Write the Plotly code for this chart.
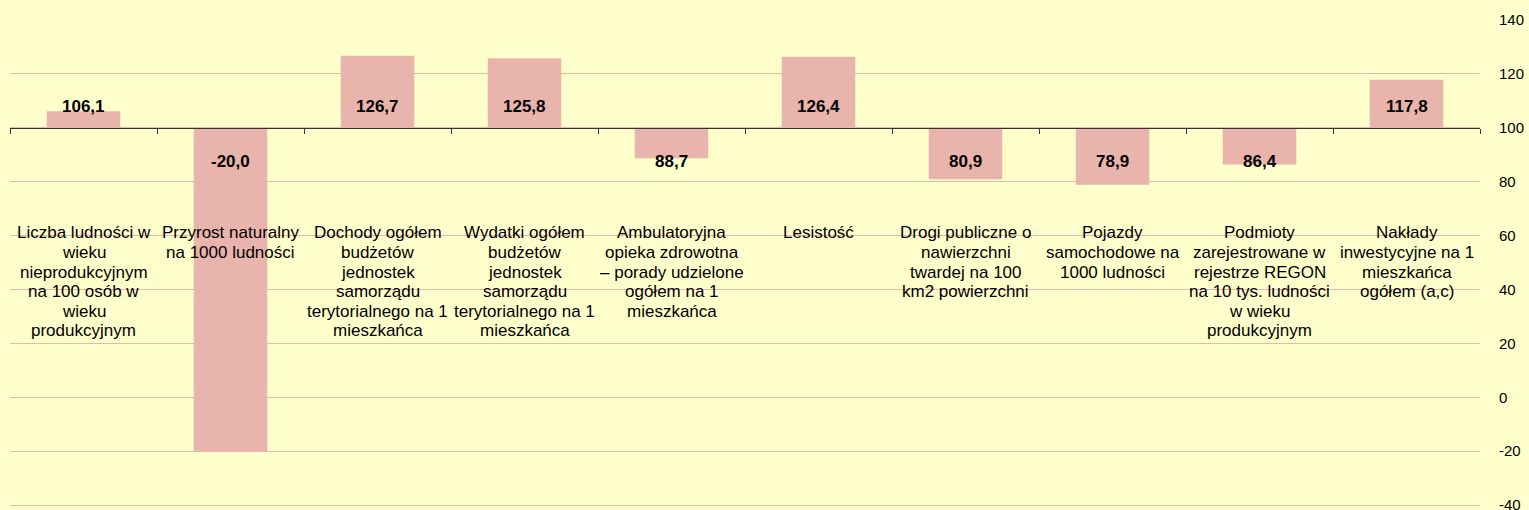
import plotly.graph_objects as go

categories = [
    "Liczba ludności w<br>wieku<br>nieprodukcyjnym<br>na 100 osób w<br>wieku<br>produkcyjnym",
    "Przyrost naturalny<br>na 1000 ludności",
    "Dochody ogółem<br>budżetów<br>jednostek<br>samorządu<br>terytorialnego na 1<br>mieszkańca",
    "Wydatki ogółem<br>budżetów<br>jednostek<br>samorządu<br>terytorialnego na 1<br>mieszkańca",
    "Ambulatoryjna<br>opieka zdrowotna<br>– porady udzielone<br>ogółem na 1<br>mieszkańca",
    "Lesistość",
    "Drogi publiczne o<br>nawierzchni<br>twardej na 100<br>km2 powierzchni",
    "Pojazdy<br>samochodowe na<br>1000 ludności",
    "Podmioty<br>zarejestrowane w<br>rejestrze REGON<br>na 10 tys. ludności<br>w wieku<br>produkcyjnym",
    "Nakłady<br>inwestycyjne na 1<br>mieszkańca<br>ogółem (a,c)",
]
values = [106.1, -20.0, 126.7, 125.8, 88.7, 126.4, 80.9, 78.9, 86.4, 117.8]
value_labels = ["106,1", "-20,0", "126,7", "125,8", "88,7", "126,4", "80,9", "78,9", "86,4", "117,8"]
baseline = 100
y_ticks = [-40, -20, 0, 20, 40, 60, 80, 100, 120, 140]

xkeys = [c.replace("<br>", " ") for c in categories]

BG = "#FFFFCC"
BAR = "#E8B4AC"
GRID = "#ECB4AC"
FONT = "Liberation Sans, Arial, sans-serif"

y_min = -41.1
y_max = 140

fig = go.Figure()
fig.add_trace(go.Bar(
    x=xkeys,
    y=[v - baseline for v in values],
    base=baseline,
    width=0.5,
    marker=dict(color=BAR, line=dict(width=0)),
    hoverinfo="skip",
))

annotations = []
for k, v, lab in zip(xkeys, values, value_labels):
    annotations.append(dict(
        x=k, y=baseline, xref="x", yref="y", text="<b>%s</b>" % lab,
        showarrow=False, yanchor="middle", xanchor="center",
        yshift=21 if v >= baseline else -34,
        font=dict(family=FONT, size=17, color="#000000"),
    ))

for k, cat in zip(xkeys, categories):
    for i, line in enumerate(cat.split("<br>")):
        annotations.append(dict(
            x=k, y=61, xref="x", yref="y", text=line,
            showarrow=False, yanchor="middle", xanchor="center",
            yshift=-19.6 * i,
            font=dict(family=FONT, size=17, color="#000000"),
        ))

fig.update_layout(
    width=1529, height=510,
    margin=dict(l=10, r=49, t=20, b=2),
    paper_bgcolor=BG, plot_bgcolor=BG,
    showlegend=False,
    bargap=0.5,
    annotations=annotations,
    font=dict(family=FONT, color="#000000"),
    xaxis=dict(
        type="category",
        showticklabels=False,
        showgrid=False,
        zeroline=False,
        showline=True,
        linecolor="#333333",
        linewidth=1,
        ticks="outside",
        tickson="boundaries",
        ticklen=5,
        tickcolor="#333333",
        anchor="free",
        position=(baseline - y_min) / (y_max - y_min),
        range=[-0.5, len(xkeys) - 0.5],
        automargin=False,
    ),
    yaxis=dict(
        side="right",
        range=[y_min, y_max],
        tickvals=y_ticks,
        ticktext=[str(t) for t in y_ticks],
        showgrid=True,
        gridcolor=GRID,
        gridwidth=1,
        zeroline=False,
        showline=False,
        ticks="",
        ticklabelstandoff=18,
        ticklabeloverflow="allow",
        automargin=False,
        tickfont=dict(family=FONT, size=15, color="#000000"),
    ),
)

fig.write_html(
    "out.html",
    config={"displayModeBar": False},
    post_script="document.body.style.margin='0';document.body.style.overflow='hidden';",
)
